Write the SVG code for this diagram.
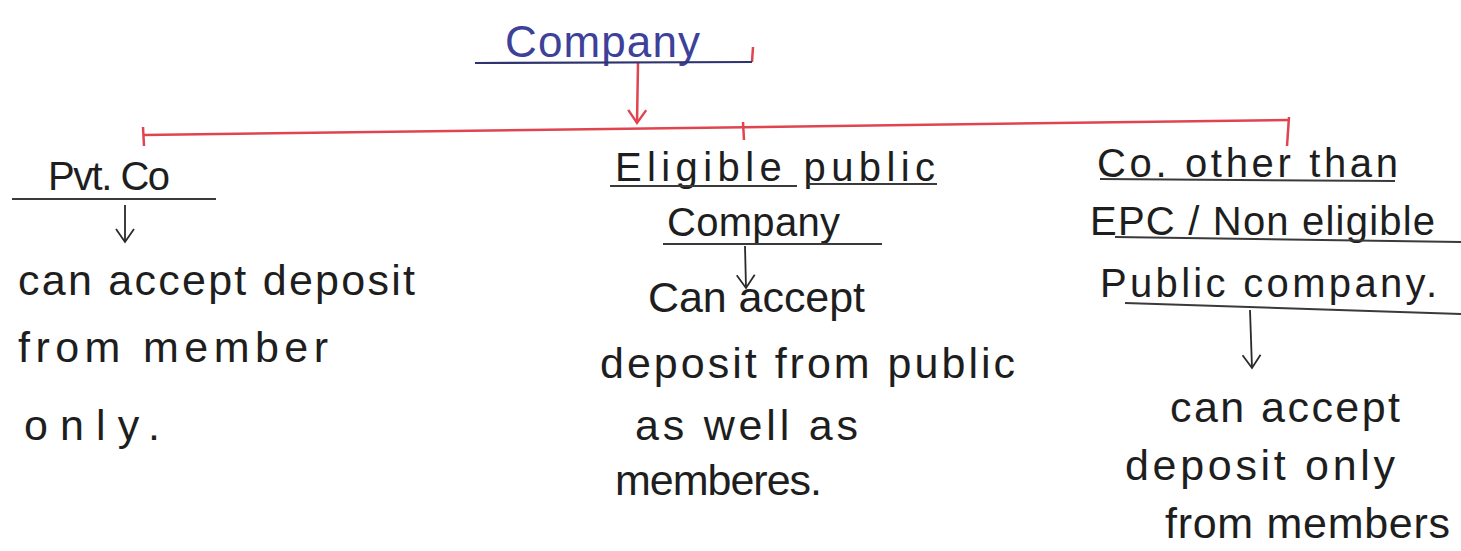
<svg xmlns="http://www.w3.org/2000/svg" width="1461" height="551" viewBox="0 0 1461 551">
<style>
.t{font-family:"Liberation Sans","DejaVu Sans",sans-serif;fill:#1e1e1e;font-size:43px}
.h{font-family:"Liberation Sans","DejaVu Sans",sans-serif;fill:#1e1e1e;font-size:40px}
.blue{fill:#3d4199;font-size:44px}
.ul{stroke:#3a3a3a;stroke-width:2;fill:none}
.red{stroke:#e0454f;stroke-width:2.5;fill:none}
.blk{stroke:#2a2a2a;stroke-width:1.8;fill:none}
</style>
<defs>
<marker id="vr" viewBox="0 0 20 20" refX="17" refY="10" markerWidth="20" markerHeight="20" markerUnits="userSpaceOnUse" orient="auto">
<path d="M4,1 L17,10 L4,19" fill="none" stroke="#e0454f" stroke-width="2.4"/>
</marker>
<marker id="vk" viewBox="0 0 20 20" refX="17" refY="10" markerWidth="20" markerHeight="20" markerUnits="userSpaceOnUse" orient="auto">
<path d="M4,1 L17,10 L4,19" fill="none" stroke="#2a2a2a" stroke-width="1.8"/>
</marker>
</defs>
<rect width="1461" height="551" fill="#ffffff"/>

<g id="connectors">
<path class="red" d="M638,63 L637,123" marker-end="url(#vr)"/>
<path class="red" d="M143,135 L1290,120"/>
<path class="red" d="M143,127 L144,146" stroke-width="4"/>
<path class="red" d="M743,122 L744,140"/>
<path class="red" d="M1289,117 L1287,146"/>
<path class="red" d="M752,62 L753,47" stroke-width="2"/>
<path class="blk" d="M125,205 L125,242" marker-end="url(#vk)"/>
<path class="blk" d="M745,246 L746,288" marker-end="url(#vk)"/>
<path class="blk" d="M1250,310 L1252,368" marker-end="url(#vk)"/>
</g>

<g id="company">
<text class="t blue" x="505" y="57" textLength="195" lengthAdjust="spacing">Company</text>
<path d="M475,63 L752,62" stroke="#2f3470" stroke-width="2.2" fill="none"/>
</g>

<g id="pvt-co">
<text class="h" x="48" y="190" textLength="122" lengthAdjust="spacing">Pvt. Co</text>
<path class="ul" d="M12,199 L216,199"/>
</g>

<g id="pvt-co-desc">
<text class="t" x="18" y="295" textLength="397" lengthAdjust="spacing">can accept deposit</text>
<text class="t" x="18" y="362" textLength="310" lengthAdjust="spacing">from member</text>
<text class="t" x="24" y="440" textLength="136" lengthAdjust="spacing">only.</text>
</g>

<g id="eligible-public-company">
<text class="h" x="615" y="181" textLength="320" lengthAdjust="spacing">Eligible public</text>
<path class="ul" d="M610,186 L797,186 M808,184 L937,184"/>
<text class="h" x="667" y="236" textLength="173" lengthAdjust="spacing">Company</text>
<path class="ul" d="M663,244 L882,244"/>
</g>

<g id="eligible-desc">
<text class="t" x="648" y="312" textLength="217" lengthAdjust="spacing">Can accept</text>
<text class="t" x="600" y="378" textLength="415" lengthAdjust="spacing">deposit from public</text>
<text class="t" x="635" y="440" textLength="223" lengthAdjust="spacing">as well as</text>
<text class="t" x="615" y="495" textLength="207" lengthAdjust="spacing">memberes.</text>
</g>

<g id="non-eligible-company">
<text class="h" x="1097" y="177" textLength="301" lengthAdjust="spacing">Co. other than</text>
<path class="ul" d="M1100,179 L1395,181"/>
<text class="h" x="1090" y="235" textLength="345" lengthAdjust="spacing">EPC / Non eligible</text>
<path class="ul" d="M1115,237 L1461,242"/>
<text class="h" x="1100" y="297" textLength="337" lengthAdjust="spacing">Public company.</text>
<path class="ul" d="M1125,303 L1461,314"/>
</g>

<g id="non-eligible-desc">
<text class="t" x="1170" y="422" textLength="230" lengthAdjust="spacing">can accept</text>
<text class="t" x="1125" y="480" textLength="270" lengthAdjust="spacing">deposit only</text>
<text class="t" x="1165" y="538" textLength="285" lengthAdjust="spacing">from members</text>
</g>
</svg>
